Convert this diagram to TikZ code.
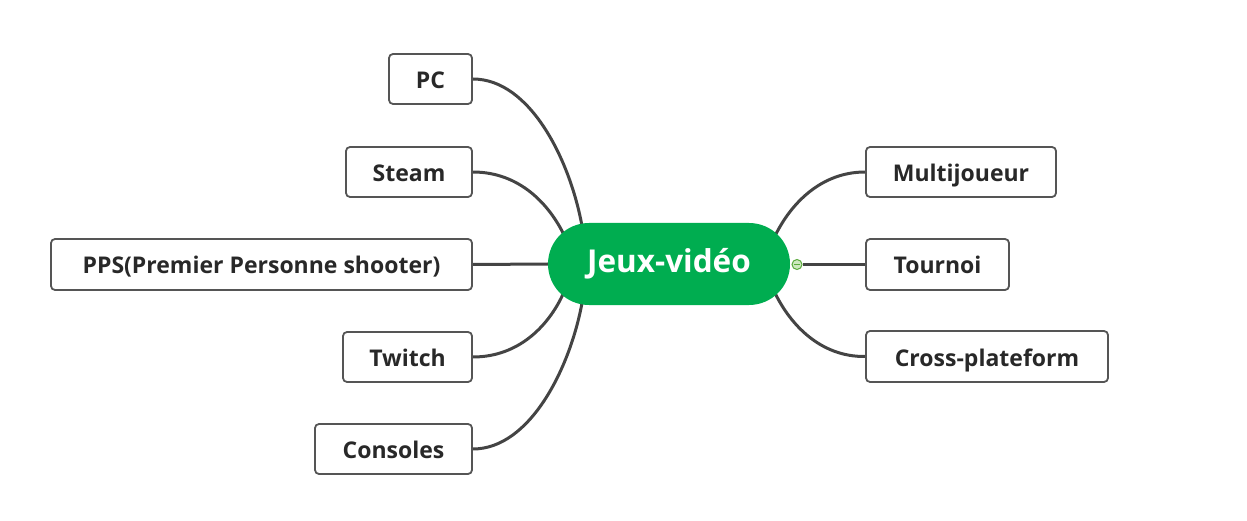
\documentclass[tikz,border=0pt]{standalone}
\usepackage{fontspec}
\setmainfont{Open Sans}
\usetikzlibrary{backgrounds,calc}
\definecolor{pillgreen}{RGB}{0,173,80}
\definecolor{linegray}{RGB}{68,68,68}
\definecolor{boxgray}{RGB}{85,85,85}
\definecolor{txt}{RGB}{40,40,40}
\definecolor{knobfill}{RGB}{205,232,190}
\definecolor{knobdraw}{RGB}{90,170,60}
\begin{document}
\begin{tikzpicture}[x=1pt,y=-1pt,
  topic/.style={draw=boxgray,line width=1.8pt,rounded corners=4pt,fill=white,
    minimum height=50pt,inner sep=0pt,text height=19pt,text depth=0pt,
    font=\bfseries\fontsize{23}{27}\selectfont,text=txt},
  central/.style={fill=pillgreen,rounded corners=41pt,minimum width=242pt,minimum height=82pt,
    inner sep=0pt,text=white,font=\bfseries\fontsize{31.5}{38}\selectfont},
  conn/.style={draw=linegray,line width=3pt}]
\useasboundingbox (0,0) rectangle (1247,521);
\node[central] (c) at (669,264) {Jeux-vidéo};
\node[topic,minimum width=83pt] (pc) at (430.5,79) {PC};
\node[topic,minimum width=126pt] (steam) at (409,172) {Steam};
\node[topic,minimum width=421pt,minimum height=51pt] (pps) at (261.5,264.5) {PPS(Premier Personne shooter)};
\node[topic,minimum width=129pt] (twitch) at (407.5,357) {Twitch};
\node[topic,minimum width=157pt] (consoles) at (393.5,449) {Consoles};
\node[topic,minimum width=190pt] (multi) at (961,172) {Multijoueur};
\node[topic,minimum width=143pt,minimum height=51pt] (tournoi) at (937.5,264.5) {Tournoi};
\node[topic,minimum width=242pt,minimum height=51pt] (cross) at (987,356.5) {Cross-plateform};
\coordinate (cpc) at (582,226);
\coordinate (csteam) at (565,237);
\coordinate (ctwitch) at (564,292);
\coordinate (ccons) at (582,303);
\coordinate (cmulti) at (775,236);
\coordinate (ccross) at (775,293);
\node[circle,draw=knobdraw,fill=knobfill,line width=1pt,minimum size=10pt,inner sep=0pt] (knob) at (797,264.5) {};
\draw[knobdraw,line width=1pt] ($(knob.center)+(-3,0)$) -- ($(knob.center)+(3,0)$);
\begin{pgfonlayer}{background}
\draw[conn] (pc.east) .. controls (530,79) and (570,160) .. (cpc);
\draw[conn] (steam.east) .. controls (520,172) and (550,205) .. (csteam);
\draw[conn] (pps.east) -- (c.west);
\draw[conn] (twitch.east) .. controls (520,357) and (550,324) .. (ctwitch);
\draw[conn] (consoles.east) .. controls (530,449) and (570,368) .. (ccons);
\draw[conn] (multi.west) .. controls (820,172) and (790,205) .. (cmulti);
\draw[conn] (knob.east) -- (tournoi.west);
\draw[conn] (cross.west) .. controls (820,357) and (790,324) .. (ccross);
\end{pgfonlayer}
\end{tikzpicture}
\end{document}
